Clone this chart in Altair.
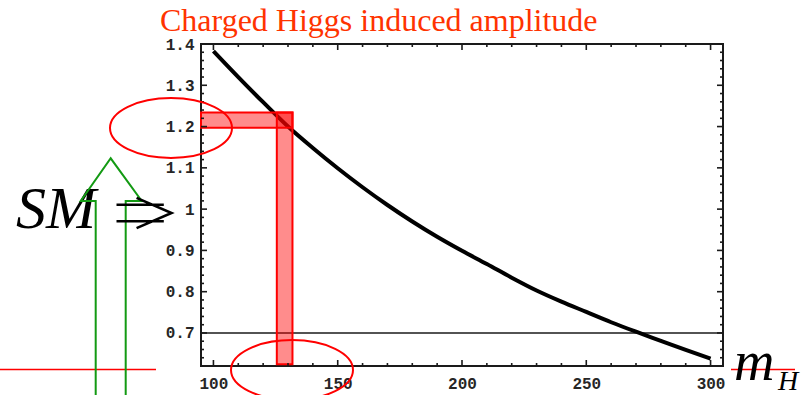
import altair as alt
import pandas as pd

# Amplitude ratio versus charged Higgs mass
m_h = [100, 110, 120, 130, 140, 150, 160, 170, 180, 190, 200,
       210, 220, 230, 240, 250, 260, 270, 280, 290, 300]
amp = [1.383, 1.320, 1.259, 1.200, 1.148, 1.099, 1.053, 1.010, 0.970, 0.933, 0.899,
       0.867, 0.834, 0.803, 0.776, 0.751, 0.726, 0.703, 0.681, 0.659, 0.638]

# horizontal reference level
ref_level = [0.7]

# highlighted bands: amplitude near 1.2 and the mass where it is reached
band_x1 = [95.0, 125.5]
band_x2 = [131.8, 131.8]
band_y1 = [1.197, 0.624]
band_y2 = [1.234, 1.234]

# axis tick values
x_major = [100, 150, 200, 250, 300]
x_minor = [110, 120, 130, 140, 160, 170, 180, 190, 210, 220, 230, 240,
           260, 270, 280, 290]
y_major = [0.7, 0.8, 0.9, 1.0, 1.1, 1.2, 1.3, 1.4]
y_minor = [0.62, 0.64, 0.66, 0.68, 0.72, 0.74, 0.76, 0.78, 0.82, 0.84, 0.86, 0.88,
           0.92, 0.94, 0.96, 0.98, 1.02, 1.04, 1.06, 1.08, 1.12, 1.14, 1.16, 1.18,
           1.22, 1.24, 1.26, 1.28, 1.32, 1.34, 1.36, 1.38]

title_text = "Charged Higgs induced amplitude"

W, H = 522, 322
XDOM = [95, 305]
YDOM = [0.62, 1.40]

curve_df = pd.DataFrame({"m": m_h, "a": amp})
band_df = pd.DataFrame({"x1": band_x1, "x2": band_x2, "y1": band_y1, "y2": band_y2})
ref_df = pd.DataFrame({"y": ref_level})

xs = alt.Scale(domain=XDOM, nice=False, zero=False)
ys = alt.Scale(domain=YDOM, nice=False, zero=False)

mono = "Liberation Mono"
serif = "Liberation Serif"

# base layer carrying the labelled axes
axes = alt.Chart(curve_df).mark_line(opacity=0).encode(
    x=alt.X("m:Q", scale=xs, title=None,
            axis=alt.Axis(values=x_major, ticks=False, domain=False, grid=False,
                          labelFont=mono, labelFontSize=16, labelFontWeight="bold",
                          labelColor="#262626", labelPadding=9)),
    y=alt.Y("a:Q", scale=ys, title=None,
            axis=alt.Axis(values=y_major, ticks=False, domain=False, grid=False,
                          labelFont=mono, labelFontSize=16, labelFontWeight="bold",
                          labelColor="#262626", labelPadding=7,
                          labelExpr="datum.value == 1 ? '1' : format(datum.value, '.1f')")),
)

curve = alt.Chart(curve_df).mark_line(
    color="black", strokeWidth=4, interpolate="monotone"
).encode(x=alt.X("m:Q", scale=xs), y=alt.Y("a:Q", scale=ys))

ref = alt.Chart(ref_df).mark_rule(color="#1a1a1a", strokeWidth=1.6).encode(
    y=alt.Y("y:Q", scale=ys), x=alt.value(0), x2=alt.value(W)
)

bands = alt.Chart(band_df).mark_rect(
    color="#ff0000", fillOpacity=0.45, stroke="#ff0000", strokeWidth=2
).encode(
    x=alt.X("x1:Q", scale=xs), x2="x2:Q",
    y=alt.Y("y1:Q", scale=ys), y2="y2:Q",
)


def xticks(vals, length):
    df = pd.DataFrame({"v": vals})
    bottom = alt.Chart(df).mark_rule(color="#1a1a1a", strokeWidth=1.6).encode(
        x=alt.X("v:Q", scale=xs), y=alt.value(H), y2=alt.value(H - length))
    top = alt.Chart(df).mark_rule(color="#1a1a1a", strokeWidth=1.6).encode(
        x=alt.X("v:Q", scale=xs), y=alt.value(0), y2=alt.value(length))
    return [bottom, top]


def yticks(vals, length):
    df = pd.DataFrame({"v": vals})
    left = alt.Chart(df).mark_rule(color="#1a1a1a", strokeWidth=1.6).encode(
        y=alt.Y("v:Q", scale=ys), x=alt.value(0), x2=alt.value(length))
    right = alt.Chart(df).mark_rule(color="#1a1a1a", strokeWidth=1.6).encode(
        y=alt.Y("v:Q", scale=ys), x=alt.value(W), x2=alt.value(W - length))
    return [left, right]


ticks = xticks(x_major, 6) + xticks(x_minor, 3) + yticks(y_major, 6) + yticks(y_minor, 3)

one = pd.DataFrame({"k": [0]})


def label(text, x, y, size, color="black", italic=False, font=serif):
    return alt.Chart(one).mark_text(
        text=text, font=font, fontSize=size, color=color, align="left",
        baseline="alphabetic", fontStyle="italic" if italic else "normal",
    ).encode(x=alt.value(x), y=alt.value(y))


title = label(title_text, -41, -13, 32, color="#ff3300")
sm = label("SM", -185, 184, 60, italic=True)
m_lab = label("m", 533, 336, 56, italic=True)
h_lab = label("H", 577, 346, 28, italic=True)

ellipse_path = "M -1 0 A 1 0.49 0 1 0 1 0 A 1 0.49 0 1 0 -1 0"
ellipses = [
    alt.Chart(one).mark_point(shape=ellipse_path, size=122 ** 2, filled=False,
                              color="#ff0000", strokeWidth=2, opacity=1)
    .encode(x=alt.value(cx), y=alt.value(cy))
    for cx, cy in [(-30, 84), (91, 326)]
]

double_arrow = alt.Chart(one).mark_point(
    shape="M -1 -0.3 L 0.72 -0.3 M -1 0.3 L 0.72 0.3 M -0.27 -0.55 L 1 0 L -0.27 0.55",
    size=55 ** 2, filled=False, color="black", strokeWidth=2.6, opacity=1,
).encode(x=alt.value(-57), y=alt.value(169))

up_arrow = alt.Chart(one).mark_point(
    shape="M -0.15 1.3 L -0.15 -0.75 L -0.30 -0.75 L 0 -1.177 L 0.31 -0.75 L 0.15 -0.75 L 0.15 1.3",
    size=200 ** 2, filled=False, color="#139a13", strokeWidth=2, opacity=1,
).encode(x=alt.value(-90.3), y=alt.value(232))

red_lines = [
    alt.Chart(one).mark_rule(color="#ff0000", strokeWidth=1.6).encode(
        x=alt.value(x0), x2=alt.value(x1), y=alt.value(325.5))
    for x0, x1 in [(-201, -45), (530, 594)]
]

chart = alt.layer(
    axes, *red_lines, ref, curve, bands, *ticks, title, sm, up_arrow, double_arrow,
    m_lab, h_lab, *ellipses,
).properties(
    width=W, height=H,
    autosize=alt.AutoSizeParams(type="none"),
    padding={"left": 201, "top": 44, "right": 81, "bottom": 29},
    background="white",
).configure_view(stroke="#1a1a1a", strokeWidth=2)

chart.save("out.html", embed_options={"renderer": "svg", "actions": False})
